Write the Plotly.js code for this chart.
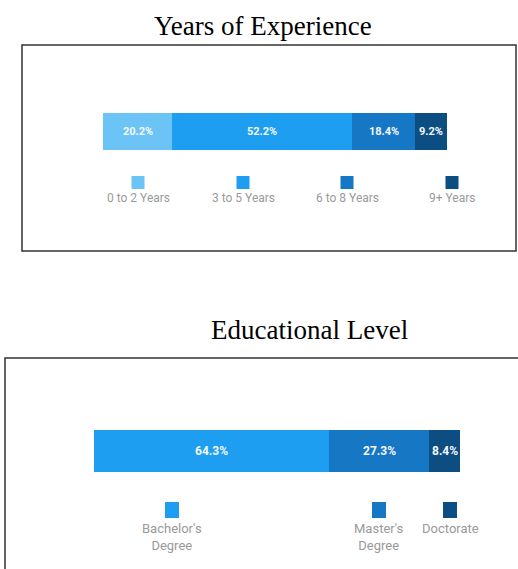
<!DOCTYPE html>
<html>
<head>
<meta charset="utf-8">
<script src="https://cdn.plot.ly/plotly-3.0.1.min.js"></script>
<style>html,body{margin:0;padding:0;background:#fff;}#chart{width:518px;height:569px;}</style>
</head>
<body>
<div id="chart"></div>
<script>
// ---- data ----
const expTitle = "Years of Experience";
const expCategories = ["0 to 2 Years", "3 to 5 Years", "6 to 8 Years", "9+ Years"];
const expValues = [20.2, 52.2, 18.4, 9.2];
const expColors = ["#6cc3f5", "#1e9ef0", "#1677c4", "#0d4e82"];

const eduTitle = "Educational Level";
const eduCategories = ["Bachelor's<br>Degree", "Master's<br>Degree", "Doctorate"];
const eduValues = [64.3, 27.3, 8.4];
const eduColors = ["#1e9ef0", "#1677c4", "#0d4e82"];

// ---- layout helpers (page pixels -> paper coords) ----
const W = 518, H = 569;
const px = x => x / W;
const py = y => 1 - y / H;

const traces = [];
const annotations = [];

function addStack(cats, vals, cols, xa, ya, fontSize) {
  let cum = 0;
  cats.forEach((c, i) => {
    traces.push({
      type: "bar", orientation: "h", name: c,
      x: [vals[i]], y: ["a"], xaxis: xa, yaxis: ya,
      marker: {color: cols[i], line: {width: 0}},
      hoverinfo: "skip", showlegend: false
    });
    // value label centred on its segment, placed in data coordinates
    annotations.push({
      text: vals[i].toFixed(1) + "%", xref: xa, yref: ya,
      x: cum + vals[i] / 2, y: "a", showarrow: false,
      xanchor: "center", yanchor: "middle",
      font: {color: "#f4f8fc", size: fontSize, family: "Roboto, Arial, sans-serif", weight: "bold"}
    });
    cum += vals[i];
  });
}
addStack(expCategories, expValues, expColors, "x", "y", 11);
addStack(eduCategories, eduValues, eduColors, "x2", "y2", 12);

const shapes = [
  {type: "rect", xref: "paper", yref: "paper", x0: px(22), x1: px(516), y0: py(45), y1: py(251),
   line: {color: "#333333", width: 1.5}, fillcolor: "rgba(0,0,0,0)"},
  {type: "rect", xref: "paper", yref: "paper", x0: px(5), x1: px(540), y0: py(358), y1: py(600),
   line: {color: "#333333", width: 1.5}, fillcolor: "rgba(0,0,0,0)"}
];
annotations.push(
  {text: expTitle, xref: "paper", yref: "paper", x: px(263), y: py(26), showarrow: false,
   xanchor: "center", yanchor: "middle", font: {family: "Liberation Serif, Times New Roman, serif", size: 27, color: "#000"}},
  {text: eduTitle, xref: "paper", yref: "paper", x: px(309), y: py(330), showarrow: false,
   xanchor: "center", yanchor: "middle", font: {family: "Liberation Serif, Times New Roman, serif", size: 27, color: "#000"}}
);

// legend: squares above labels
const expLegendX = [138, 243, 347, 452];
expCategories.forEach((c, i) => {
  shapes.push({type: "rect", xref: "paper", yref: "paper",
    x0: px(expLegendX[i] - 6.5), x1: px(expLegendX[i] + 6.5), y0: py(189), y1: py(176),
    line: {width: 0}, fillcolor: expColors[i]});
  annotations.push({text: c, xref: "paper", yref: "paper", x: px(expLegendX[i]), y: py(198),
    showarrow: false, xanchor: "center", yanchor: "middle",
    font: {family: "Roboto, Arial, sans-serif", size: 12, color: "#9a9a9a"}});
});
const eduLegendX = [172, 379, 450];
eduCategories.forEach((c, i) => {
  shapes.push({type: "rect", xref: "paper", yref: "paper",
    x0: px(eduLegendX[i] - 7), x1: px(eduLegendX[i] + 7), y0: py(518), y1: py(502),
    line: {width: 0}, fillcolor: eduColors[i]});
  annotations.push({text: c, xref: "paper", yref: "paper", x: px(eduLegendX[i]), y: py(519),
    showarrow: false, xanchor: "center", yanchor: "top",
    font: {family: "Roboto, Arial, sans-serif", size: 13, color: "#9a9a9a"}});
});

const hiddenAxis = {showgrid: false, zeroline: false, showticklabels: false, ticks: "", showline: false, fixedrange: true};

const layout = {
  width: W, height: H,
  margin: {l: 0, r: 0, t: 0, b: 0, pad: 0},
  paper_bgcolor: "#ffffff", plot_bgcolor: "rgba(0,0,0,0)",
  barmode: "stack", bargap: 0,
  showlegend: false,
  xaxis: Object.assign({}, hiddenAxis, {domain: [px(103), px(447)], range: [0, 100], anchor: "y"}),
  yaxis: Object.assign({}, hiddenAxis, {domain: [py(150), py(113)], anchor: "x"}),
  xaxis2: Object.assign({}, hiddenAxis, {domain: [px(94), px(460)], range: [0, 100], anchor: "y2"}),
  yaxis2: Object.assign({}, hiddenAxis, {domain: [py(472), py(430)], anchor: "x2"}),
  shapes: shapes,
  annotations: annotations
};

Plotly.newPlot("chart", traces, layout, {displayModeBar: false, staticPlot: true});
</script>
</body>
</html>
